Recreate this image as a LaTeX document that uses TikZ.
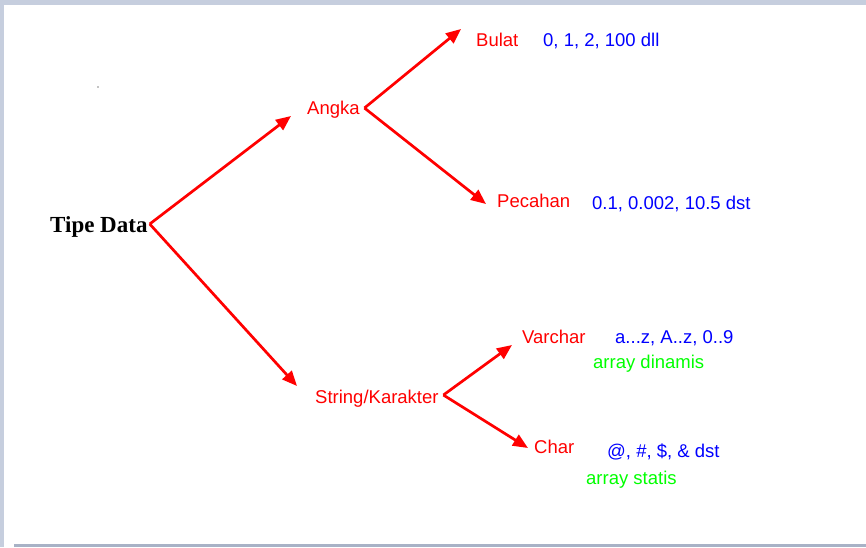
\documentclass[tikz,border=0pt]{standalone}
\usepackage{fontspec}
\setmainfont{Liberation Sans}
\newfontfamily\titlefont{Liberation Serif}
\usetikzlibrary{arrows.meta}
\definecolor{framegray}{RGB}{198,206,222}
\definecolor{framedark}{RGB}{168,178,198}
\definecolor{valgreen}{RGB}{0,255,0}

\begin{document}
\begin{tikzpicture}[x=1pt,y=-1pt,
  every node/.style={inner sep=0pt,anchor=base west,font=\fontsize{18.5}{22}\selectfont},
  kind/.style={text=red},
  val/.style={text=blue},
  note/.style={text=valgreen},
  link/.style={draw=red,line width=2.7pt,-{Triangle[length=15pt,width=12.5pt]}}]
  \useasboundingbox (0,0) rectangle (866,547);
  \fill[framegray] (0,0) rectangle (866,5);
  \fill[framegray] (0,0) rectangle (4,547);
  \fill[framedark] (14,544) rectangle (866,547);
  \fill (98,87) circle (0.7pt);

  \node (td) at (50,232) {\titlefont\bfseries\fontsize{23}{26}\selectfont Tipe Data};

  \node[kind] (angka) at (307,114) {Angka};
  \node[kind] (bulat) at (476,46) {Bulat};
  \node[val] (bulatv) at (543,46) {0, 1, 2, 100 dll};
  \node[kind] (pecahan) at (497,207) {Pecahan};
  \node[val] (pecahanv) at (592,209) {0.1, 0.002, 10.5 dst};

  \node[kind] (str) at (315,403) {String/Karakter};
  \node[kind] (varchar) at (522,343) {Varchar};
  \node[val] (varcharv) at (615,343) {a...z, A..z, 0..9};
  \node[note] (varcharn) at (593,368) {array dinamis};
  \node[kind] (char) at (534,453) {Char};
  \node[val] (charv) at (607,457) {@, \#, \$, \& dst};
  \node[note] (charn) at (586,484) {array statis};

  % where the arrows leave and end
  \coordinate (td-o) at ([xshift=2pt,yshift=8pt]td.base east);
  \coordinate (angka-o) at ([xshift=4.6pt,yshift=6pt]angka.base east);
  \coordinate (str-o) at ([xshift=4.6pt,yshift=8pt]str.base east);
  \coordinate (angka-i) at ([xshift=-16pt,yshift=-2pt]angka.base west);
  \coordinate (str-i) at ([xshift=-18pt,yshift=17pt]str.base west);
  \coordinate (bulat-i) at ([xshift=-15pt,yshift=17pt]bulat.base west);
  \coordinate (pecahan-i) at ([xshift=-11pt,yshift=3pt]pecahan.base west);
  \coordinate (varchar-i) at ([xshift=-10pt,yshift=-2pt]varchar.base west);
  \coordinate (char-i) at ([xshift=-6pt,yshift=5pt]char.base west);

  \foreach \from/\to in {td-o/angka-i, td-o/str-i,
                         angka-o/bulat-i, angka-o/pecahan-i,
                         str-o/varchar-i, str-o/char-i}
    \draw[link] (\from) -- (\to);
\end{tikzpicture}
\end{document}
